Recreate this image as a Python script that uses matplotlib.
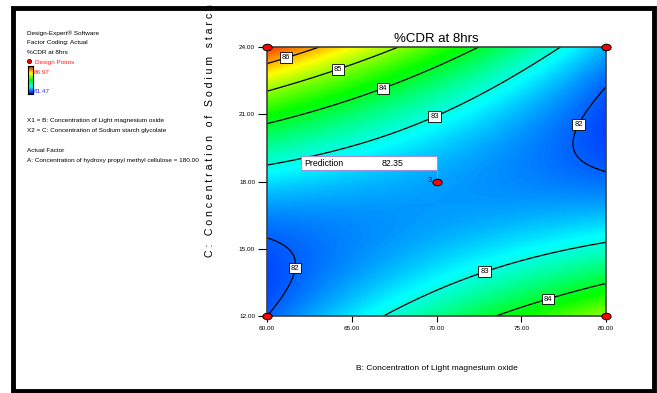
import numpy as np
import matplotlib
matplotlib.use("Agg")
import matplotlib.pyplot as plt
from matplotlib.colors import LinearSegmentedColormap
from matplotlib.patches import Rectangle
from matplotlib.path import Path

# quadratic model, coded units: x1 = (B - 70) / 10, x2 = (C - 18) / 6
# terms: 1, x1, x2, x1*x2, x1^2, x2^2
coef = [82.35, -0.3025, 0.528, -1.808, 0.0375, 1.645]

b_lim = [60.0, 80.0]
c_lim = [12.0, 24.0]
x_ticks = [60, 65, 70, 75, 80]
y_ticks = [12, 15, 18, 21, 24]
levels = [82, 83, 84, 85, 86]

design_b = [60, 60, 80, 80, 70]
design_c = [12, 24, 12, 24, 18]
center_reps = 3

obs_min, obs_max = 81.47, 86.97
pred_b, pred_c = 70.0, 18.0

info_lines = ["Design-Expert\u00ae Software", "Factor Coding: Actual", "%CDR at 8hrs"]
factor_lines = ["X1 = B: Concentration of Light magnesium oxide",
                "X2 = C: Concentration of Sodium starch glycolate"]
actual_lines = ["Actual Factor",
                "A: Concentration of hydroxy propyl methyl cellulose = 180.00"]

plt.rcParams['font.family'] = ['Liberation Sans', 'DejaVu Sans']


def cdr(b, c):
    x1 = (b - 70.0) / 10.0
    x2 = (c - 18.0) / 6.0
    return (coef[0] + coef[1] * x1 + coef[2] * x2 + coef[3] * x1 * x2
            + coef[4] * x1 ** 2 + coef[5] * x2 ** 2)


W, H = 657, 393
fig = plt.figure(figsize=(W / 100, H / 100), dpi=100)


def fx(px):
    return px / W


def fy(py):
    return 1 - py / H


cmap = LinearSegmentedColormap.from_list(
    "de", ["#0000ff", "#00ffff", "#00ff00", "#ffff00", "#ff0000"])

ax = fig.add_axes([fx(267), fy(316), fx(606) - fx(267), fy(47) - fy(316)])
bb, cc = np.meshgrid(np.linspace(*b_lim, 300), np.linspace(*c_lim, 300))
zz = cdr(bb, cc)
ax.imshow(zz, extent=b_lim + c_lim, origin='lower', aspect='auto', cmap=cmap,
          vmin=obs_min, vmax=obs_max, interpolation='bilinear')
cs = ax.contour(bb, cc, zz, levels=levels, colors='black', linewidths=0.9)
spots = [(61.06, 23.69), (64.13, 23.15), (66.78, 22.30), (69.79, 21.05),
         (78.23, 20.61), (61.65, 14.14), (72.74, 14.19), (76.46, 13.03)]
labels = ax.clabel(cs, levels, fmt='%d', manual=spots, inline=False, fontsize=5.5)
for t in labels:
    t.set_rotation(0)
    t.set_bbox(dict(boxstyle='square,pad=0.25', fc='white', ec='black', lw=0.6))

# design points drawn as flattened ellipses
th = np.linspace(0, 2 * np.pi, 40)
oval = Path(np.column_stack([np.cos(th), 0.7 * np.sin(th)]))
ax.scatter(design_b, design_c, marker=oval, s=45, c='red', edgecolors='black',
           linewidths=0.7, clip_on=False, zorder=6)
ax.text(pred_b - 0.3, pred_c + 0.05, str(center_reps), ha='right', va='center',
        fontsize=5.5)

# prediction flag
ax.add_patch(Rectangle((62.0, 18.51), pred_b + 0.03 - 62.0, 0.63, fc='white',
                       ec='#a090e0', lw=0.8, zorder=7))
ax.plot([pred_b + 0.03, pred_b + 0.03], [18.51, pred_c + 0.1], color='#a090e0',
        lw=0.7, zorder=5)
ax.text(62.2, 18.82, "Prediction", ha='left', va='center', fontsize=6.3, zorder=8)
ax.text(66.78, 18.82, "%.2f" % cdr(pred_b, pred_c), ha='left', va='center',
        fontsize=6.3, zorder=8)

ax.set_xlim(b_lim)
ax.set_ylim(c_lim)
ax.set_xticks(x_ticks)
ax.set_xticklabels(["%.2f" % v for v in x_ticks])
ax.set_yticks(y_ticks)
ax.set_yticklabels(["%.2f" % v for v in y_ticks])
ax.tick_params(axis='x', direction='out', length=4, width=0.8, labelsize=4.6, pad=3)
ax.tick_params(axis='y', direction='out', length=6.5, width=0.8, labelsize=4.6, pad=2)
for sp in ax.spines.values():
    sp.set_color('#404040')
    sp.set_linewidth(1.2)

fig.text(fx(436.5), fy(41.7), "%CDR at 8hrs", ha='center', va='baseline', fontsize=9.5)
fig.text(fx(436.5), fy(370.5), "B: Concentration of Light magnesium oxide",
         ha='center', va='baseline', fontsize=6)
words = ["C:", "Concentration", "of", "Sodium", "starch", "glycolate"]
ylab = "   ".join(" ".join(w) for w in words)
fig.text(fx(210), fy(257), ylab, rotation=90, ha='center', va='bottom',
         fontsize=7.6)

# side panel
for s, y in zip(info_lines, [35.3, 44.3, 53.7]):
    fig.text(fx(27), fy(y), s, ha='left', va='baseline', fontsize=4.6)
fig.text(fx(34.7), fy(63.7), "Design Points", ha='left', va='baseline',
         fontsize=4.6, color='#ff2020')
fig.lines.append(plt.Line2D([fx(29.3)], [fy(61)], marker='o', ms=3, mfc='red',
                            mec='black', mew=0.5, transform=fig.transFigure))
cax = fig.add_axes([fx(28), fy(94), fx(33) - fx(28), fy(66) - fy(94)])
cax.imshow(np.linspace(0, 1, 100)[:, None], cmap=cmap, origin='lower', aspect='auto')
cax.set_xticks([])
cax.set_yticks([])
for sp in cax.spines.values():
    sp.set_linewidth(0.8)
fig.text(fx(34), fy(74), "%.2f" % obs_max, ha='left', va='baseline', fontsize=4.6,
         color='#ff2020')
fig.text(fx(34), fy(93), "%.2f" % obs_min, ha='left', va='baseline', fontsize=4.6,
         color='#3030ff')
for s, y in zip(factor_lines, [122, 132]):
    fig.text(fx(27), fy(y), s, ha='left', va='baseline', fontsize=4.6)
for s, y in zip(actual_lines, [152, 162]):
    fig.text(fx(27), fy(y), s, ha='left', va='baseline', fontsize=4.6)

# outer frame
fig.patches.append(Rectangle((fx(13), fy(390.5)), fx(653.5) - fx(13),
                             fy(8) - fy(390.5), fill=False, ec='black', lw=3.5,
                             transform=fig.transFigure, figure=fig))

fig.savefig("out.png", dpi=100)
